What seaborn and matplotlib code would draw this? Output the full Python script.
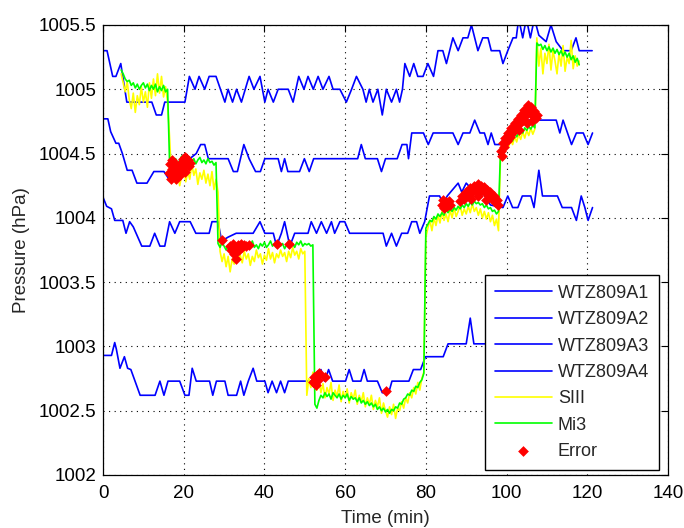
import numpy as np
import pandas as pd
import matplotlib
matplotlib.use("Agg")
import matplotlib.pyplot as plt
import seaborn as sns

# reference barometers, (time in min, pressure in hPa)
wtz_a1 = [(0, 1005.3), (1, 1005.3), (2.4, 1005.1), (3.2, 1005.1), (4.4, 1005.2), (5.9, 1004.9),
          (12.1, 1004.9), (13.2, 1004.8), (14.5, 1004.8), (15.3, 1004.9), (20.3, 1004.9), (21.4, 1005.1),
          (22.8, 1005.0), (23.8, 1005.1), (25.2, 1005.0), (26.3, 1005.1), (28, 1005.1), (30.2, 1004.9),
          (31, 1005.0), (32.1, 1004.9), (33.1, 1005.0), (34.3, 1004.9), (36.2, 1005.1), (37.4, 1005.0),
          (38.9, 1005.1), (40.1, 1004.9), (40.9, 1005.0), (42.2, 1004.9), (43.4, 1005.0), (45.9, 1005.0),
          (47.1, 1004.9), (48.5, 1005.1), (49.8, 1005.0), (50.8, 1005.1), (52.1, 1005.0), (53.3, 1005.1),
          (54.5, 1005.0), (56, 1005.1), (57, 1005.0), (58.7, 1005.0), (60.3, 1004.9), (61.6, 1005.0),
          (62.8, 1005.1), (64.4, 1005.0), (65.2, 1004.9), (66, 1005.0), (66.9, 1004.9), (68.1, 1005.0),
          (69.2, 1004.8), (70.2, 1005.0), (71.5, 1004.9), (72.7, 1005.0), (73.5, 1004.9), (74.2, 1005.0),
          (74.8, 1005.2), (76, 1005.1), (77, 1005.2), (78, 1005.1), (79.3, 1005.1), (80.5, 1005.2),
          (81.9, 1005.1), (83, 1005.3), (84.2, 1005.3), (85.1, 1005.2), (86.7, 1005.4), (88, 1005.3),
          (89.2, 1005.4), (90.4, 1005.4), (91.3, 1005.5), (92.9, 1005.3), (94.1, 1005.4), (95.4, 1005.4),
          (96.2, 1005.3), (98.3, 1005.3), (99.1, 1005.2), (100.3, 1005.3), (101.6, 1005.4), (102.4, 1005.4),
          (103, 1005.55), (104, 1005.4), (104.9, 1005.55), (105.9, 1005.4), (106.9, 1005.55), (108, 1005.42),
          (109.8, 1005.37), (111, 1005.5), (112.3, 1005.37), (114, 1005.3), (116, 1005.3), (117.2, 1005.4),
          (118, 1005.3), (121.2, 1005.3)]

wtz_a2 = [(0, 1004.77), (1.2, 1004.77), (1.9, 1004.67), (3.2, 1004.58), (3.9, 1004.58), (4.8, 1004.5),
          (6, 1004.37), (7.2, 1004.37), (8.4, 1004.27), (10.9, 1004.27), (12.6, 1004.36), (15.1, 1004.36),
          (16.8, 1004.28), (18.5, 1004.36), (21.5, 1004.46), (23.1, 1004.5), (24.2, 1004.57), (25.2, 1004.57),
          (26.1, 1004.46), (31, 1004.46), (32.3, 1004.36), (33.3, 1004.36), (34.9, 1004.57), (36.2, 1004.46),
          (37.8, 1004.36), (39, 1004.36), (40.1, 1004.46), (43.4, 1004.46), (44.2, 1004.36), (45, 1004.46),
          (45.8, 1004.36), (48.7, 1004.36), (49.9, 1004.46), (51.1, 1004.36), (52.2, 1004.46), (63.1, 1004.46),
          (64, 1004.57), (65, 1004.46), (68, 1004.46), (69, 1004.36), (70, 1004.46), (72.9, 1004.46),
          (74.1, 1004.57), (75.3, 1004.57), (75.7, 1004.46), (76.5, 1004.66), (79.4, 1004.66), (80.6, 1004.57),
          (81.8, 1004.66), (86.7, 1004.66), (88, 1004.57), (89.2, 1004.66), (90.9, 1004.66), (92.1, 1004.76),
          (93.4, 1004.66), (94.5, 1004.66), (95.4, 1004.57), (96.2, 1004.66), (97.1, 1004.57), (98.3, 1004.57),
          (100.5, 1004.66), (102.9, 1004.76), (112.3, 1004.76), (113.2, 1004.66), (114, 1004.76),
          (116.1, 1004.57), (117.3, 1004.66), (119, 1004.66), (120.2, 1004.57), (121.3, 1004.66)]

wtz_a3 = [(0, 1004.16), (0.9, 1004.09), (2.1, 1004.07), (2.9, 1003.98), (4.9, 1003.98), (5.7, 1003.88),
          (6.6, 1003.97), (7.5, 1003.93), (9.6, 1003.78), (11.6, 1003.78), (12.8, 1003.88), (14.1, 1003.78),
          (15.3, 1003.78), (16.5, 1003.97), (17.8, 1003.88), (19, 1003.97), (21.6, 1003.97), (23, 1003.88),
          (26.3, 1003.88), (27, 1003.97), (28.5, 1003.97), (29.4, 1003.82), (31, 1003.85), (33, 1003.88),
          (37.2, 1003.88), (38.9, 1003.97), (40.1, 1003.88), (42.2, 1003.88), (43, 1003.78), (44.2, 1003.88),
          (45, 1003.97), (46.3, 1003.78), (47.5, 1003.88), (50.8, 1003.88), (51.6, 1003.97), (52.9, 1003.88),
          (54.1, 1003.97), (55.4, 1003.88), (56.6, 1003.97), (57.4, 1003.88), (58.7, 1003.97), (59.9, 1003.97),
          (61.1, 1003.88), (69.4, 1003.88), (70.2, 1003.78), (71.5, 1003.88), (72.7, 1003.78), (74, 1003.88),
          (75.5, 1003.88), (76.5, 1003.97), (77.7, 1003.97), (78.5, 1003.88), (79.7, 1003.97), (80.9, 1004.17),
          (83.4, 1004.17), (84.3, 1004.11), (85.3, 1004.17), (88, 1004.27), (88.9, 1004.2), (90, 1004.27),
          (92, 1004.2), (94, 1004.2), (96, 1004.1), (99.1, 1004.08), (100.3, 1004.17), (101.5, 1004.08),
          (102.8, 1004.08), (103.9, 1004.17), (106, 1004.17), (106.8, 1004.08), (108, 1004.37),
          (108.9, 1004.17), (112.6, 1004.17), (113.8, 1004.08), (116.1, 1004.08), (117.3, 1003.98),
          (118.5, 1004.17), (119.4, 1004.08), (120.2, 1003.98), (121.3, 1004.08)]

wtz_a4 = [(0, 1002.93), (2.1, 1002.93), (2.9, 1003.03), (3.3, 1002.98), (4.2, 1002.83), (5.3, 1002.92),
          (6.1, 1002.83), (6.9, 1002.82), (9.2, 1002.62), (12.9, 1002.62), (14.1, 1002.73), (15.1, 1002.62),
          (16.1, 1002.73), (19, 1002.73), (20.3, 1002.62), (21.3, 1002.62), (22.1, 1002.83), (23.1, 1002.73),
          (26.4, 1002.73), (27.2, 1002.62), (28.1, 1002.73), (30.2, 1002.73), (31, 1002.62), (33.1, 1002.62),
          (34.1, 1002.73), (34.9, 1002.62), (36, 1002.73), (37.2, 1002.83), (38.1, 1002.73), (40.1, 1002.73),
          (40.9, 1002.64), (41.9, 1002.73), (43, 1002.64), (44, 1002.73), (45, 1002.64), (45.9, 1002.73),
          (53.3, 1002.73), (54, 1002.82), (54.9, 1002.73), (55.9, 1002.82), (56.9, 1002.73), (60.1, 1002.73),
          (61, 1002.82), (61.9, 1002.73), (63.9, 1002.73), (64.7, 1002.82), (65.5, 1002.73), (68, 1002.73),
          (69.2, 1002.64), (70.8, 1002.64), (71.6, 1002.73), (75.8, 1002.73), (76.9, 1002.82), (78.7, 1002.82),
          (79.9, 1002.92), (84.3, 1002.92), (85.5, 1003.02), (90, 1003.02), (91, 1003.22), (91.9, 1003.02),
          (100, 1003.02), (104, 1003.12), (112, 1003.12), (121, 1003.02)]

# test sensors, 0.5 min samples: (segment start time, readings)
siii = [
    (4.5, [1005.12, 1005.05, 1004.98, 1005.06, 1004.92, 1004.85, 1004.97, 1004.82, 1004.95, 1004.88,
           1005.02, 1004.90, 1004.98, 1004.86, 1005.05, 1004.93, 1005.08, 1004.95, 1005.12, 1004.97,
           1005.10, 1004.94, 1005.02, 1004.90]),
    (16.5, [1004.62, 1004.30, 1004.38, 1004.27, 1004.35, 1004.25, 1004.33, 1004.40, 1004.28, 1004.36,
            1004.30, 1004.42, 1004.33, 1004.38, 1004.26, 1004.35, 1004.30, 1004.37, 1004.27, 1004.34,
            1004.25, 1004.36, 1004.22, 1004.30, 1004.20]),
    (29.0, [1003.74, 1003.66, 1003.72, 1003.62, 1003.70, 1003.58, 1003.68, 1003.64, 1003.73, 1003.67,
            1003.71, 1003.65, 1003.74, 1003.68, 1003.72, 1003.63, 1003.70, 1003.66, 1003.75, 1003.69,
            1003.72, 1003.64, 1003.71, 1003.67, 1003.76, 1003.68, 1003.73, 1003.65, 1003.72, 1003.69,
            1003.75, 1003.70, 1003.73, 1003.66, 1003.74, 1003.69, 1003.77, 1003.71, 1003.74, 1003.68,
            1003.76, 1003.72, 1003.74]),
    (50.5, [1002.62, 1002.75, 1002.68, 1002.80, 1002.70, 1002.66, 1002.74, 1002.64, 1002.71, 1002.60,
            1002.68, 1002.63, 1002.72, 1002.58, 1002.66, 1002.61, 1002.70, 1002.57, 1002.65, 1002.60,
            1002.67, 1002.56, 1002.64, 1002.59, 1002.66, 1002.55, 1002.62, 1002.57, 1002.64, 1002.53,
            1002.60, 1002.55, 1002.62, 1002.51, 1002.58, 1002.53, 1002.60, 1002.48, 1002.56, 1002.50,
            1002.45, 1002.53, 1002.47, 1002.55, 1002.44, 1002.52, 1002.50, 1002.57, 1002.52, 1002.60,
            1002.56, 1002.64, 1002.60, 1002.68, 1002.63, 1002.72, 1002.66, 1002.75, 1002.80]),
    (80.0, [1003.85, 1003.92, 1003.98, 1003.90, 1004.00, 1003.94, 1004.02, 1003.96, 1004.05, 1003.98,
            1004.03, 1003.97, 1004.06, 1004.00, 1004.08, 1004.01, 1004.05, 1004.10, 1004.02, 1004.07,
            1004.03, 1004.09, 1004.04, 1004.11, 1004.05, 1004.08, 1004.02, 1004.07, 1004.00, 1004.05,
            1003.99, 1004.04, 1003.97, 1004.02, 1003.94, 1003.99, 1003.90]),
    (98.5, [1004.48, 1004.55, 1004.52, 1004.58, 1004.55, 1004.61, 1004.57, 1004.63, 1004.59, 1004.65,
            1004.61, 1004.67, 1004.62, 1004.68, 1004.64, 1004.70, 1004.65, 1004.69]),
    (107.5, [1005.40, 1005.18, 1005.32, 1005.12, 1005.28, 1005.20, 1005.35, 1005.15, 1005.30, 1005.22,
             1005.12, 1005.28, 1005.18, 1005.34, 1005.14, 1005.25, 1005.20, 1005.38, 1005.16, 1005.26,
             1005.18, 1005.22]),
]

mi3 = [
    (4.5, [1005.15, 1005.12, 1005.08, 1005.06, 1005.07, 1005.03, 1005.05, 1005.01, 1005.04, 1005.00,
           1005.03, 1005.05, 1005.01, 1005.04, 1004.99, 1005.03, 1005.00, 1005.04, 1004.98, 1005.02,
           1004.99, 1005.03, 1004.98, 1005.00]),
    (16.5, [1004.42, 1004.47, 1004.43, 1004.46, 1004.41, 1004.45, 1004.48, 1004.43, 1004.46, 1004.42,
            1004.47, 1004.44, 1004.46, 1004.42, 1004.45, 1004.47, 1004.43, 1004.45, 1004.42, 1004.46,
            1004.43, 1004.44, 1004.41, 1004.43]),
    (28.5, [1003.80, 1003.77, 1003.81, 1003.78, 1003.75, 1003.79, 1003.76, 1003.80, 1003.77, 1003.74,
            1003.78, 1003.81, 1003.77, 1003.79, 1003.76, 1003.80, 1003.78, 1003.82, 1003.77, 1003.79,
            1003.76, 1003.80, 1003.78, 1003.81, 1003.77, 1003.79, 1003.82, 1003.78, 1003.80, 1003.77,
            1003.81, 1003.78, 1003.80, 1003.76, 1003.79, 1003.82, 1003.78, 1003.80, 1003.77, 1003.81,
            1003.79, 1003.82, 1003.78, 1003.80, 1003.79, 1003.80, 1003.78, 1003.79]),
    (52.5, [1002.55, 1002.52, 1002.58, 1002.62, 1002.60, 1002.64, 1002.61, 1002.63, 1002.59, 1002.64,
            1002.62, 1002.60, 1002.63, 1002.59, 1002.62, 1002.60, 1002.63, 1002.58, 1002.61, 1002.59,
            1002.60, 1002.57, 1002.60, 1002.56, 1002.58, 1002.55, 1002.57, 1002.54, 1002.56, 1002.53,
            1002.55, 1002.51, 1002.53, 1002.50, 1002.52, 1002.49, 1002.51, 1002.48, 1002.51, 1002.50,
            1002.53, 1002.52, 1002.56, 1002.55, 1002.59, 1002.60, 1002.63, 1002.62, 1002.66, 1002.65,
            1002.69, 1002.68, 1002.72, 1002.74, 1002.79]),
    (80.0, [1003.92, 1003.95, 1003.98, 1003.97, 1004.01, 1003.99, 1004.03, 1004.01, 1004.04, 1004.02,
            1004.06, 1004.04, 1004.07, 1004.05, 1004.08, 1004.06, 1004.09, 1004.07, 1004.10, 1004.08,
            1004.11, 1004.09, 1004.12, 1004.10, 1004.13, 1004.11, 1004.12, 1004.10, 1004.11, 1004.08,
            1004.10, 1004.07, 1004.08, 1004.05, 1004.06, 1004.03, 1004.05]),
    (98.5, [1004.52, 1004.55, 1004.57, 1004.56, 1004.60, 1004.62, 1004.60, 1004.65, 1004.63, 1004.66,
            1004.68, 1004.66, 1004.70, 1004.68, 1004.71, 1004.69, 1004.72, 1004.70]),
    (107.5, [1005.36, 1005.34, 1005.35, 1005.31, 1005.34, 1005.30, 1005.33, 1005.29, 1005.32, 1005.28,
             1005.31, 1005.27, 1005.30, 1005.26, 1005.29, 1005.25, 1005.28, 1005.23, 1005.26, 1005.21,
             1005.24, 1005.19]),
]

# flagged readings
errors = [(16.3, 1004.35), (16.6, 1004.42), (16.8, 1004.30), (17.0, 1004.38), (17.2, 1004.45), (17.3, 1004.33),
          (17.5, 1004.43), (17.8, 1004.36), (18.0, 1004.30), (18.3, 1004.40), (18.6, 1004.34), (18.9, 1004.38),
          (19.0, 1004.33), (19.2, 1004.42), (19.5, 1004.37), (19.8, 1004.46), (20.1, 1004.40), (20.2, 1004.36),
          (20.4, 1004.47), (20.7, 1004.42), (21.0, 1004.45), (21.3, 1004.40), (21.6, 1004.43),
          (29.5, 1003.83), (31.4, 1003.78), (31.8, 1003.75), (32.1, 1003.80), (32.4, 1003.72), (32.7, 1003.77),
          (33.0, 1003.68), (33.2, 1003.74), (33.5, 1003.79), (33.8, 1003.75), (34.1, 1003.80), (34.5, 1003.77),
          (34.9, 1003.79), (35.5, 1003.78), (36.2, 1003.79), (43.0, 1003.80), (46.1, 1003.80),
          (52.0, 1002.72), (52.4, 1002.76), (52.7, 1002.70), (53.0, 1002.78), (53.3, 1002.74), (53.6, 1002.79),
          (55.0, 1002.76), (70.0, 1002.65),
          (84.0, 1004.10), (84.3, 1004.14), (84.6, 1004.08), (85.0, 1004.12), (85.3, 1004.09), (85.7, 1004.13),
          (86.0, 1004.10), (88.5, 1004.13), (89.0, 1004.17), (89.5, 1004.15), (90.0, 1004.20), (90.5, 1004.18),
          (91.0, 1004.23), (91.3, 1004.15), (91.5, 1004.20), (92.0, 1004.25), (92.4, 1004.22), (92.8, 1004.26),
          (93.0, 1004.17), (93.2, 1004.21), (93.6, 1004.25), (94.0, 1004.22), (94.4, 1004.24), (94.8, 1004.19),
          (95.0, 1004.14), (95.2, 1004.22), (95.6, 1004.17), (96.0, 1004.20), (96.4, 1004.15), (96.8, 1004.17),
          (97.2, 1004.12), (97.6, 1004.14), (98.0, 1004.10),
          (98.6, 1004.52), (98.8, 1004.48), (99.0, 1004.58), (99.3, 1004.55), (99.6, 1004.62), (100.0, 1004.60),
          (100.4, 1004.66), (100.8, 1004.63), (101.2, 1004.70), (101.6, 1004.67), (102.0, 1004.74),
          (102.4, 1004.71), (102.8, 1004.77), (103.0, 1004.68), (103.2, 1004.73), (103.6, 1004.80),
          (104.0, 1004.76), (104.4, 1004.84), (104.8, 1004.80), (105.0, 1004.74), (105.2, 1004.88),
          (105.6, 1004.83), (106.0, 1004.86), (106.2, 1004.75), (106.4, 1004.80), (106.8, 1004.83),
          (107.2, 1004.78), (107.6, 1004.80)]

x_ticks = [0, 20, 40, 60, 80, 100, 120, 140]
y_ticks = [1002, 1002.5, 1003, 1003.5, 1004, 1004.5, 1005, 1005.5]
y_tick_labels = ["1002", "1002.5", "1003", "1003.5", "1004", "1004.5", "1005", "1005.5"]


def segments_to_frame(segments):
    t, p = [], []
    for start, vals in segments:
        for k, v in enumerate(vals):
            t.append(start + 0.5 * k)
            p.append(v)
    return pd.DataFrame({"t": t, "p": p})


sns.set_style("white")
plt.rcParams["font.family"] = ["Liberation Sans", "DejaVu Sans"]

fig = plt.figure(figsize=(6.84, 5.28), dpi=100)
ax = fig.add_axes([0.1506, 0.1004, 0.826, 0.8523])

for name, pts in [("WTZ809A1", wtz_a1), ("WTZ809A2", wtz_a2),
                  ("WTZ809A3", wtz_a3), ("WTZ809A4", wtz_a4)]:
    df = pd.DataFrame(pts, columns=["t", "p"])
    sns.lineplot(data=df, x="t", y="p", color="#0000ff", lw=1.2, label=name,
                 ax=ax, estimator=None, sort=False)

sns.lineplot(data=segments_to_frame(siii), x="t", y="p", color="#ffff00", lw=1.2,
             label="SIII", ax=ax, estimator=None, sort=False)
sns.lineplot(data=segments_to_frame(mi3), x="t", y="p", color="#00ff00", lw=1.2,
             label="Mi3", ax=ax, estimator=None, sort=False)

err = pd.DataFrame(errors, columns=["t", "p"])
sns.scatterplot(data=err, x="t", y="p", marker="D", color="#ff0000", s=30,
                linewidth=0, label="Error", ax=ax, zorder=5)

ax.set_xlim(0, 140)
ax.set_ylim(1002, 1005.5)
ax.set_xticks(x_ticks)
ax.set_yticks(y_ticks)
ax.set_yticklabels(y_tick_labels)
ax.set_xlabel("Time (min)", fontsize=13.5, labelpad=6)
ax.set_ylabel("Pressure (hPa)", fontsize=13.5, labelpad=6)

ax.grid(True, color="black", linestyle=(0, (1, 4)), linewidth=0.8)
ax.set_axisbelow(True)
ax.tick_params(direction="in", length=5, width=0.8, top=True, right=True,
               labelsize=13.5, colors="black")
ax.tick_params(axis="x", pad=7)
ax.tick_params(axis="y", pad=5)
for s in ax.spines.values():
    s.set_color("black")
    s.set_linewidth(0.9)

leg = ax.legend(loc="lower right", bbox_to_anchor=(0.984, 0.011), borderaxespad=0,
                fontsize=13, frameon=True, fancybox=False, framealpha=1, edgecolor="black",
                handlelength=3.2, handletextpad=0.3, labelspacing=0.52, borderpad=0.55)
leg.get_frame().set_linewidth(1.0)

fig.savefig("out.png", dpi=100)
